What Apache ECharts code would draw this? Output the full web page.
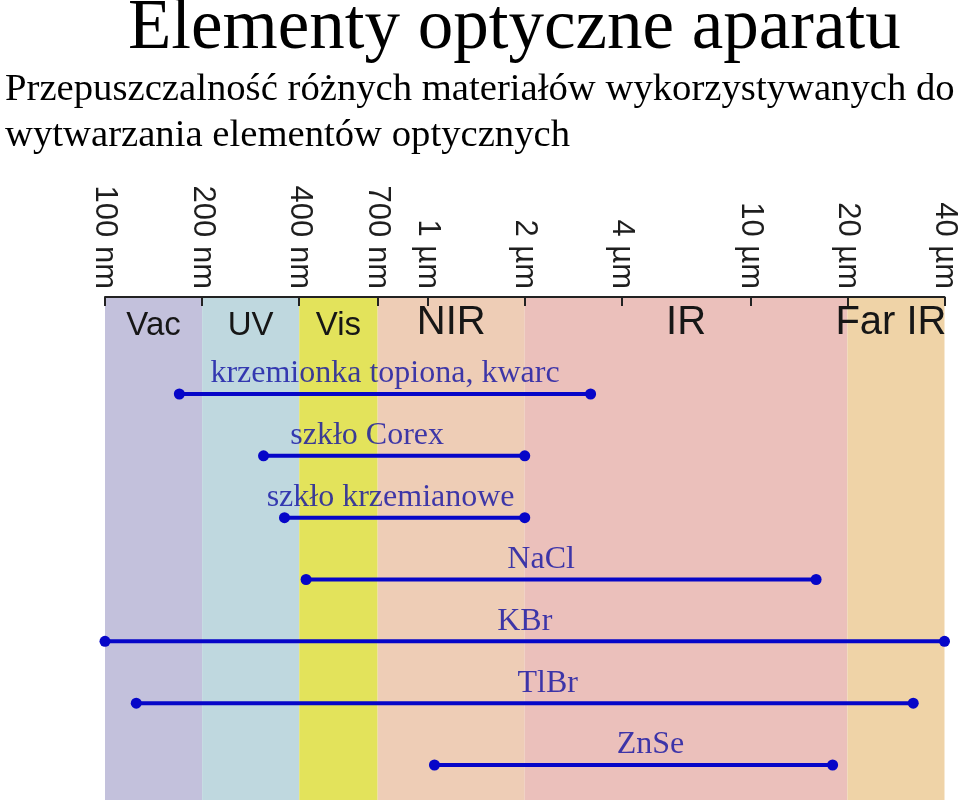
<!DOCTYPE html>
<html>
<head>
<meta charset="utf-8">
<title>Elementy optyczne aparatu</title>
<script src="https://cdn.jsdelivr.net/npm/echarts@6/dist/echarts.min.js"></script>
<style>
  html, body { margin: 0; padding: 0; background: #fff; }
  #chart { width: 960px; height: 807px; }
</style>
</head>
<body>
<div id="chart"></div>
<script>
// wavelengths in nm
const tickValues = [100, 200, 400, 700, 1000, 2000, 4000, 10000, 20000, 40000];
const tickLabels = ['100 nm', '200 nm', '400 nm', '700 nm', '1 µm', '2 µm', '4 µm', '10 µm', '20 µm', '40 µm'];

const bandNames = ['Vac', 'UV', 'Vis', 'NIR', 'IR', 'Far IR'];
const bandFrom = [100, 200, 400, 700, 2000, 20000];
const bandTo = [200, 400, 700, 2000, 20000, 40000];

const materials = ['krzemionka topiona, kwarc', 'szkło Corex', 'szkło krzemianowe', 'NaCl', 'KBr', 'TlBr', 'ZnSe'];
const rangeFrom = [170, 310, 360, 420, 100, 125, 1050];
const rangeTo = [3200, 2000, 2000, 16000, 40000, 32000, 18000];

// styling
const bandColors = ['#c3c1dc', '#bfd8df', '#e3e35b', '#eecdb6', '#ebc0bb', '#efd3a7'];
const bandFont = [33, 33, 33, 40, 40, 40];
const labelShift = [0, -27, -14, -20, 0, 23, 17];
const lineColor = '#0606c8';
const textBlue = '#1010a4';

const lg = v => Math.log10(v);
const tickLogs = tickValues.map(lg);

const chart = echarts.init(document.getElementById('chart'));

const bandData = bandNames.map((name, i) => [
  {
    name: name,
    xAxis: lg(bandFrom[i]),
    itemStyle: { color: bandColors[i], opacity: 1 },
    label: {
      fontSize: bandFont[i],
      distance: bandFont[i] > 35 ? 6 : 12,
      offset: i === 5 ? [-5, 0] : [0, 0]
    }
  },
  { xAxis: lg(bandTo[i]) }
]);

const lineSeries = materials.map((m, i) => ({
  name: m,
  type: 'line',
  z: 3,
  silent: true,
  symbol: 'circle',
  symbolSize: 11,
  showAllSymbol: true,
  lineStyle: { color: lineColor, width: 4 },
  itemStyle: { color: lineColor },
  data: [[lg(rangeFrom[i]), i], [lg(rangeTo[i]), i]]
}));

const labelSeries = {
  name: 'labels',
  type: 'scatter',
  z: 4,
  silent: true,
  symbolSize: 0.1,
  itemStyle: { color: textBlue },
  data: materials.map((m, i) => ({
    name: m,
    value: [(lg(rangeFrom[i]) + lg(rangeTo[i])) / 2, i],
    label: { offset: [labelShift[i], 0] }
  })),
  label: {
    show: true,
    position: 'top',
    distance: 4,
    formatter: '{b}',
    color: textBlue,
    fontFamily: 'Liberation Serif',
    fontSize: 32
  },
  markArea: {
    silent: true,
    label: {
      show: true,
      position: 'insideTop',
      color: '#161616',
      fontFamily: 'Liberation Sans'
    },
    data: bandData
  }
};

chart.setOption({
  animation: false,
  backgroundColor: '#fff',
  title: [
    {
      text: 'Elementy optyczne aparatu',
      left: 128,
      top: -6,
      padding: 0,
      textStyle: { fontFamily: 'Liberation Serif', fontSize: 71, fontWeight: 'normal', color: '#000' }
    },
    {
      text: 'Przepuszczalność różnych materiałów wykorzystywanych do\nwytwarzania elementów optycznych',
      left: 5,
      top: 67,
      padding: 0,
      textStyle: { fontFamily: 'Liberation Serif', fontSize: 38.7, lineHeight: 46, fontWeight: 'normal', color: '#000' }
    }
  ],
  grid: { left: 105, right: 14, top: 297, bottom: 7 },
  xAxis: {
    type: 'value',
    position: 'top',
    z: 10,
    min: lg(100),
    max: lg(40000),
    splitLine: { show: false },
    axisLine: { show: true, onZero: false, lineStyle: { color: '#222', width: 2 } },
    axisTick: { show: true, inside: true, length: 9, lineStyle: { color: '#222', width: 2 }, customValues: tickLogs },
    axisLabel: {
      customValues: tickLogs,
      rotate: 90,
      margin: 8,
      fontFamily: 'Liberation Sans',
      fontSize: 31,
      color: '#1e1e1e',
      formatter: v => {
        const k = tickLogs.findIndex(t => Math.abs(t - v) < 1e-6);
        return k >= 0 ? tickLabels[k] : '';
      }
    }
  },
  yAxis: { type: 'value', inverse: true, min: -1.569, max: 6.566, show: false },
  series: [labelSeries].concat(lineSeries)
});
</script>
</body>
</html>
